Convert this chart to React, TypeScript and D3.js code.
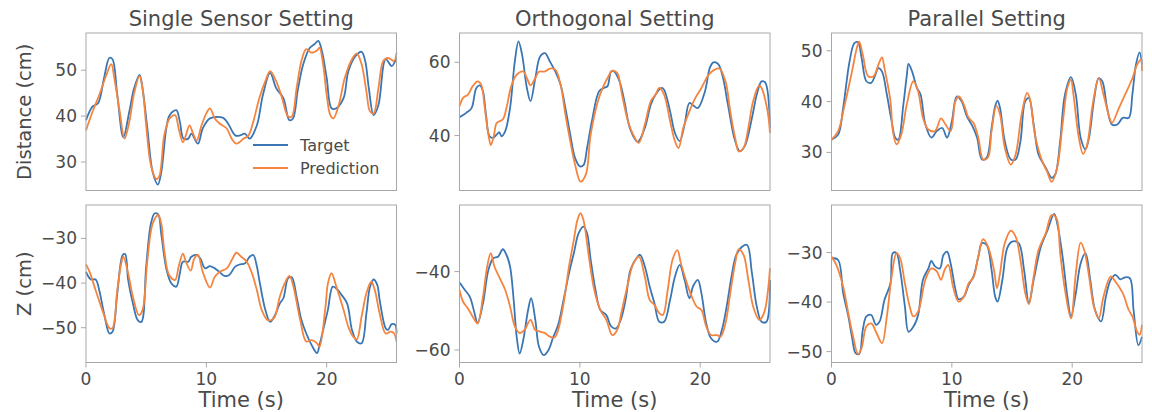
import React from "react";
import * as d3 from "d3";

type Pt = [number, number];

// time (s), value (cm)
const singleDistTarget: Pt[] = [
  [0, 39.1], [0.55, 42.1], [1, 42.8], [1.5, 48.3], [1.95, 52.7], [2.2, 52.4], [2.6, 44.6], [3.1, 35.4],
  [3.6, 41], [4, 46.1], [4.45, 49], [4.7, 46], [5.1, 37.3], [5.55, 27.7], [5.97, 25.1], [6.25, 27.7],
  [6.67, 37.3], [6.95, 40.2], [7.5, 41.3], [7.8, 38.8], [8.1, 35.1], [8.5, 35.1], [8.75, 36.2], [9.3, 34],
  [9.7, 37.3], [10.3, 39.5], [11.4, 39.6], [11.8, 38.4], [12.4, 35.8], [12.8, 35.8], [13.2, 36.2], [13.6, 35.1],
  [14.2, 38], [14.7, 44.6], [15.3, 49.4], [15.8, 46.1], [16.4, 43.9], [16.9, 39.1], [17.2, 39.5], [17.6, 45.7],
  [18.05, 51.3], [18.6, 54.9], [19, 55.7], [19.3, 56.4], [19.6, 54.2], [20, 48.3], [20.4, 41.7], [20.8, 41.7],
  [21.4, 43.9], [21.8, 49.8], [22.4, 53.1], [22.9, 54], [23.2, 52], [23.5, 46.1], [23.9, 40.2], [24.3, 42.4],
  [24.9, 52.4], [25.4, 50.9], [25.8, 52.7],
];
const singleDistPred: Pt[] = [
  [0, 36.9], [0.55, 41], [1.1, 44.6], [1.7, 49], [2.1, 51.3], [2.35, 48.3], [2.8, 41], [3.2, 35.1],
  [3.6, 38.8], [4, 45], [4.45, 48.7], [4.7, 46], [5, 38], [5.4, 29.2], [5.85, 26.3], [6.1, 27],
  [6.5, 35.8], [6.95, 39.5], [7.4, 40.2], [7.7, 37.3], [8.05, 34.3], [8.3, 35.8], [8.6, 38], [8.9, 36.2],
  [9.2, 34.7], [9.6, 38], [10, 40.6], [10.3, 41.7], [10.7, 39.5], [11.1, 38.4], [11.7, 37.3], [12.1, 35.1],
  [12.5, 34], [13.1, 35.1], [13.5, 35.8], [13.9, 38.8], [14.4, 43.9], [14.9, 47.6], [15.3, 49.8], [15.8, 47.6],
  [16.25, 44.3], [16.8, 39.9], [17.1, 39.9], [17.5, 46.1], [17.9, 52], [18.3, 54.6], [18.75, 53.8], [19.2, 54.3],
  [19.4, 54.9], [19.7, 51.3], [20, 44.6], [20.3, 40.2], [20.55, 39.5], [21, 42.4], [21.5, 48.3], [22.1, 52.4],
  [22.5, 53.6], [22.9, 51.3], [23.3, 45.4], [23.6, 41], [23.9, 40.6], [24.3, 46.1], [24.7, 52], [25.1, 52.7],
  [25.6, 52], [25.8, 53.8],
];

const orthoDistTarget: Pt[] = [
  [0, 45], [0.56, 46.2], [1, 47.5], [1.4, 53], [1.7, 53.7], [1.95, 52.1], [2.2, 45.7], [2.5, 39.8],
  [2.8, 39.4], [3.1, 40.3], [3.3, 40.9], [3.5, 39.8], [3.8, 41.2], [4.2, 47.5], [4.6, 60.3], [4.9, 65.7],
  [5.2, 62.1], [5.6, 53], [5.9, 49.4], [6.3, 55.7], [6.7, 61.6], [7.1, 62.5], [7.5, 60.3], [7.96, 57.5],
  [8.4, 53.9], [8.8, 47.5], [9.2, 40.3], [9.6, 33.9], [10, 31.6], [10.3, 31.9], [10.6, 36.6], [11, 43.9],
  [11.6, 52.1], [12, 53], [12.3, 53.5], [12.6, 57.5], [12.85, 57.5], [13.3, 54.8], [13.7, 49.4], [14.2, 41.6],
  [14.8, 38.3], [15.4, 42.1], [15.9, 48.5], [16.3, 51.2], [16.8, 53], [17, 52.5], [17.5, 46.6], [17.9, 40.7],
  [18.3, 38.5], [18.7, 43], [19.1, 48.9], [19.4, 48.3], [19.8, 47.5], [20.4, 52.1], [20.8, 58.5], [21.1, 60],
  [21.5, 59.5], [21.9, 55.7], [22.3, 48.5], [22.9, 38.5], [23.3, 35.7], [23.7, 37.1], [24.3, 44.8], [24.7, 51.2],
  [25.1, 54.8], [25.4, 54.5], [25.8, 42.1],
];
const orthoDistPred: Pt[] = [
  [0, 48], [0.3, 50.3], [0.7, 51.2], [1.1, 53.5], [1.5, 54.8], [1.8, 53.9], [2.1, 47.5], [2.4, 40.3],
  [2.6, 37.4], [2.85, 39.8], [3.1, 43.5], [3.6, 44.4], [3.9, 47.5], [4.3, 53.5], [4.75, 56.6], [5.3, 57.5],
  [5.6, 55.7], [5.9, 53.7], [6.3, 55.7], [6.6, 57.4], [7.1, 57.5], [7.5, 58.3], [7.96, 58], [8.4, 53.9],
  [8.8, 45.7], [9.2, 38.5], [9.6, 32.1], [10.06, 27.4], [10.5, 29.4], [10.9, 40.3], [11.5, 49.4], [11.9, 53],
  [12.3, 55.7], [12.7, 57.7], [13.1, 57.1], [13.5, 51.2], [14, 43.9], [14.5, 39.8], [14.9, 38], [15.4, 43],
  [15.9, 49.4], [16.3, 51.2], [16.6, 53], [17, 51.2], [17.5, 43.9], [17.9, 38.5], [18.2, 36.6], [18.6, 42.1],
  [19.1, 46.6], [19.6, 50.3], [20.1, 53], [20.7, 56.6], [21.2, 58], [21.6, 58.3], [22.1, 54.8], [22.5, 46.6],
  [22.9, 39.4], [23.2, 35.7], [23.6, 36.6], [24, 42.1], [24.4, 49.4], [24.9, 53.7], [25.1, 53], [25.6, 46.6],
  [25.8, 40.7],
];

const paraDistTarget: Pt[] = [
  [0, 32.5], [0.55, 33.5], [0.97, 38.8], [1.5, 47.9], [1.9, 51.5], [2.2, 51.7], [2.5, 48.6], [2.9, 44],
  [3.3, 43.7], [3.6, 45], [3.9, 46.6], [4.2, 45.9], [4.6, 41.4], [5, 36.1], [5.3, 32.9], [5.55, 32.5],
  [5.97, 39.4], [6.25, 45], [6.4, 47.4], [6.7, 45.9], [7.1, 42.7], [7.4, 41.4], [7.8, 35.5], [8.3, 32.9],
  [8.75, 34.2], [9.2, 34.8], [9.6, 32.9], [10, 36.1], [10.4, 41], [10.8, 40.1], [11.25, 37.1], [11.7, 35.2],
  [12.1, 32.9], [12.5, 28.6], [12.9, 29], [13.3, 34.8], [13.6, 39.1], [13.8, 40.2], [14, 38.8], [14.4, 32.2],
  [14.9, 28.6], [15.3, 28.6], [15.7, 32.2], [16.1, 40.1], [16.4, 40.7], [16.8, 35.5], [17.2, 29.6], [17.8, 27],
  [18.3, 25], [18.6, 25.7], [19, 32.2], [19.4, 41.4], [19.9, 44.8], [20.3, 41.4], [20.7, 32.9], [21.1, 30.6],
  [21.4, 32.9], [21.8, 40.1], [22.2, 44.6], [22.5, 44], [22.9, 38.8], [23.3, 35.5], [23.75, 35.5], [24.2, 36.8],
  [24.7, 36.8], [25, 41.4], [25.3, 47.3], [25.6, 49.7], [25.8, 47.3],
];
const paraDistPred: Pt[] = [
  [0, 32.5], [0.55, 34.2], [1.1, 39.4], [1.7, 45.9], [2.1, 50.5], [2.3, 51.8], [2.6, 49.2], [3.05, 45],
  [3.5, 45], [3.9, 47.3], [4.2, 48.7], [4.4, 46.6], [4.9, 40.1], [5.1, 34.2], [5.4, 31.6], [5.8, 33.5],
  [6.25, 39.4], [6.8, 44], [7.2, 42], [7.6, 36.8], [8.05, 34.5], [8.6, 34.2], [9.1, 36.7], [9.4, 35.8],
  [9.9, 34.2], [10.3, 40.1], [10.6, 41], [11, 39.4], [11.4, 36.8], [11.8, 35.8], [12.2, 32.9], [12.6, 28.6],
  [13, 29], [13.3, 34.2], [13.7, 39.1], [14, 37.5], [14.4, 30.9], [14.9, 27.6], [15.3, 29.6], [15.8, 37.5],
  [16.25, 41.7], [16.5, 40.4], [16.9, 33.5], [17.5, 28.3], [17.9, 26.3], [18.3, 24.2], [18.75, 27], [19.2, 35.5],
  [19.6, 42.7], [19.9, 44.3], [20.1, 41.4], [20.55, 32.9], [20.9, 29.7], [21.25, 31.6], [21.7, 39.4], [22.2, 44.6],
  [22.6, 41.4], [23.1, 36.8], [23.3, 35.8], [23.9, 38.8], [24.4, 41.4], [25, 44.6], [25.4, 47.3], [25.7, 48.2],
  [25.8, 46],
];

const singleZTarget: Pt[] = [
  [0, -37.5], [0.4, -39.2], [0.8, -39.2], [1.1, -41.6], [1.5, -46.8], [1.95, -51.3], [2.2, -50.9], [2.6, -42.3],
  [3.05, -33.7], [3.25, -33.5], [3.5, -39.3], [3.9, -44.6], [4.3, -48.3], [4.6, -48.7], [5, -36.3], [5.4, -26.6],
  [5.7, -24.4], [6, -24.6], [6.25, -28.9], [6.7, -37.1], [7.1, -40.1], [7.5, -40.8], [7.8, -37.8], [8.05, -35.2],
  [8.5, -35.2], [8.75, -34.1], [9.2, -33.7], [9.5, -34.5], [9.9, -36.7], [10.3, -36.2], [10.7, -36.7], [11.1, -37.5],
  [11.5, -38.4], [11.9, -38.2], [12.4, -36.3], [12.8, -35.8], [13.2, -35.6], [13.6, -34.1], [13.9, -33.7], [14.2, -36.3],
  [14.4, -39.3], [14.9, -46], [15.3, -48.7], [15.7, -47.2], [16.1, -44.6], [16.4, -43.4], [16.8, -38.9], [17.1, -38.7],
  [17.5, -43.1], [17.9, -48.3], [18.3, -51.3], [18.75, -53.9], [19.2, -55.7], [19.4, -53.9], [19.9, -48.3], [20.1, -46],
  [20.5, -40.8], [20.8, -41.2], [21.25, -42.7], [21.7, -44.6], [22.1, -50.5], [22.5, -53.1], [22.9, -53.5], [23.3, -46.8],
  [23.6, -40.8], [23.9, -39.2], [24.2, -40.4], [24.4, -43.8], [24.9, -50.1], [25.1, -50.5], [25.4, -49.2], [25.7, -49.4],
  [25.8, -51.3],
];
const singleZPred: Pt[] = [
  [0, -35.8], [0.3, -37.5], [0.8, -41.6], [1.4, -46.4], [1.95, -50.1], [2.2, -50.1], [2.6, -41.6], [2.9, -36],
  [3.1, -34.1], [3.5, -37.8], [3.9, -43.1], [4.4, -47.2], [4.7, -46], [5.1, -34.9], [5.55, -26.6], [6, -24.8],
  [6.25, -26.6], [6.5, -32.6], [6.9, -38.2], [7.4, -39.3], [7.7, -36.3], [8.05, -33.4], [8.3, -35.2], [8.7, -37.2],
  [9, -34.5], [9.3, -33.7], [9.7, -37.5], [10.3, -41], [10.7, -38.6], [11.1, -37.5], [11.7, -36.7], [12.1, -34.9],
  [12.5, -33.2], [12.9, -34.1], [13.3, -35], [13.75, -37.5], [14.2, -41.6], [14.6, -46], [15.1, -48.3], [15.6, -47.9],
  [16.1, -43.1], [16.5, -40.1], [16.9, -38.4], [17.2, -40.4], [17.8, -48.3], [18.3, -53.1], [18.75, -52.8], [19.2, -53.5],
  [19.4, -54.3], [19.9, -45.3], [20.1, -40.1], [20.4, -37.8], [20.8, -40.8], [21.4, -46], [21.8, -49.8], [22.2, -52],
  [22.5, -52.6], [22.9, -47.5], [23.3, -42.3], [23.7, -39.7], [24, -41.6], [24.4, -46.8], [24.9, -51.3], [25.3, -50.9],
  [25.6, -51.3], [25.8, -53.1],
];

const orthoZTarget: Pt[] = [
  [0, -42.8], [0.4, -44.5], [0.85, -46.4], [1.25, -50.6], [1.5, -53.2], [1.95, -48.1], [2.4, -39.6], [2.8, -36.6],
  [3.2, -36.2], [3.6, -34.3], [3.9, -35.7], [4.2, -38.7], [4.5, -47.2], [4.75, -56.6], [5, -60.9], [5.3, -57.4],
  [5.7, -49.8], [5.95, -46.8], [6.3, -52.3], [6.6, -59.1], [7, -61.3], [7.4, -60], [7.8, -56.6], [8.2, -53.6],
  [8.7, -46.4], [9.1, -40.4], [9.5, -35.3], [9.9, -30.2], [10.3, -28.5], [10.6, -30.2], [10.9, -37], [11.3, -44.7],
  [11.7, -49.8], [12.2, -51.1], [12.6, -54], [13, -54.5], [13.4, -52.3], [13.8, -47.2], [14.2, -39.6], [14.7, -36.6],
  [15, -35.7], [15.4, -38.7], [15.8, -43.8], [16.2, -48.1], [16.6, -52.8], [17, -52.8], [17.5, -47.2], [17.9, -41.3],
  [18.3, -38.3], [18.7, -42.1], [19.1, -46.8], [19.4, -43.8], [19.8, -42.1], [20.1, -45.5], [20.5, -53.2], [20.9, -57],
  [21.4, -57.9], [21.8, -54.9], [22.2, -48.9], [22.6, -41.3], [23, -35.7], [23.5, -33.6], [23.9, -33.2], [24.3, -40.4],
  [24.7, -48.9], [25.1, -52.8], [25.5, -52.8], [25.8, -42.1],
];
const orthoZPred: Pt[] = [
  [0, -44.7], [0.3, -47.7], [0.7, -49.4], [1.1, -51.5], [1.5, -53.2], [1.95, -46.4], [2.3, -38.7], [2.6, -35.3],
  [2.9, -38.7], [3.35, -41.7], [3.8, -44.7], [4.2, -48.9], [4.6, -54], [5, -55.7], [5.4, -54.9], [5.9, -52.3],
  [6.3, -54.9], [6.7, -55.3], [7.1, -55.7], [7.5, -56.6], [7.9, -56.8], [8.2, -54.9], [8.7, -47.2], [9.1, -38.7],
  [9.5, -31.9], [9.8, -26.8], [10.05, -25.1], [10.3, -26.8], [10.75, -36.2], [11.2, -44.7], [11.7, -49.8], [12.2, -52.3],
  [12.7, -56.2], [13.1, -54.9], [13.5, -49.8], [14, -43], [14.4, -38.3], [14.9, -36.2], [15.4, -41.3], [15.8, -47.2],
  [16.2, -48.5], [16.6, -50.6], [16.9, -51.1], [17.3, -44.7], [17.7, -37], [18.1, -34.5], [18.4, -37.9], [18.9, -43],
  [19.3, -46.4], [19.7, -48.9], [20.1, -49.8], [20.5, -54], [20.9, -56.2], [21.4, -56.2], [21.7, -56.6], [22.1, -53.2],
  [22.5, -45.5], [22.9, -37.9], [23.2, -34.3], [23.6, -35.7], [24, -42.1], [24.4, -48.9], [24.9, -52.3], [25.3, -50.6],
  [25.8, -39.1],
];

const paraZTarget: Pt[] = [
  [0, -31.1], [0.55, -31.5], [0.97, -38.2], [1.4, -42.9], [1.7, -47], [2, -50.3], [2.3, -50.5], [2.6, -45.6],
  [2.9, -42.9], [3.3, -42.6], [3.7, -44.6], [4, -43.9], [4.4, -39.6], [4.9, -36.2], [5.1, -30.1], [5.4, -30.1],
  [5.7, -33.5], [6.1, -40.9], [6.4, -46], [6.8, -45], [7.2, -42.6], [7.6, -35.5], [8.05, -33.2], [8.3, -31.7],
  [8.6, -32.8], [9, -33.2], [9.3, -30.5], [9.6, -29.8], [9.9, -32.2], [10.3, -37.5], [10.55, -39.4], [11, -38.9],
  [11.4, -36.5], [11.8, -34.8], [12.2, -30.8], [12.5, -28.1], [12.9, -28.5], [13.3, -33.5], [13.6, -38.9], [13.8, -39.9],
  [14.2, -35.5], [14.6, -29.1], [15, -27.8], [15.55, -28.1], [16, -33.5], [16.4, -40.2], [16.8, -35.5], [17.4, -28.8],
  [17.9, -25.8], [18.5, -22.2], [18.75, -24.1], [19.2, -30.8], [19.6, -38.9], [19.9, -42.9], [20.3, -38.2], [20.7, -32.2],
  [21.1, -30.1], [21.5, -35.5], [21.9, -41.6], [22.4, -43.9], [22.8, -38.9], [23.2, -35.5], [23.6, -34.5], [24, -35.4],
  [24.4, -35], [24.8, -35.2], [25.1, -41.6], [25.5, -48.7], [25.8, -47],
];
const paraZPred: Pt[] = [
  [0, -30.8], [0.4, -32.5], [0.97, -36.9], [1.4, -42.3], [1.8, -47], [2.2, -50.5], [2.5, -49.3], [2.9, -44.9],
  [3.3, -44.3], [3.75, -46.3], [4.2, -48.3], [4.6, -42.9], [5, -34.8], [5.4, -30.1], [5.7, -31.1], [6.1, -36.2],
  [6.5, -40.9], [6.8, -42.9], [7.2, -41.9], [7.8, -35.5], [8.3, -33.2], [8.75, -33.8], [9.1, -35.5], [9.4, -33.5],
  [9.7, -32.5], [10.1, -36.9], [10.55, -39.9], [11, -38.9], [11.4, -36.2], [11.8, -35], [12.2, -30.8], [12.6, -27.3],
  [13, -28.8], [13.5, -33.5], [13.75, -37.2], [14, -34.2], [14.4, -28.1], [14.9, -25.6], [15.3, -26.8], [15.7, -31.5],
  [16.1, -38.2], [16.4, -40.4], [16.8, -34.8], [17.2, -29.5], [17.8, -26.1], [18.3, -22.4], [18.7, -23.1], [19, -30.1],
  [19.4, -37.5], [19.9, -43.3], [20.3, -34.2], [20.7, -28], [21, -29.5], [21.4, -34.8], [21.8, -40.9], [22.2, -43.3],
  [22.6, -38.9], [23.2, -34.8], [23.6, -35.9], [24.2, -38.2], [24.7, -41.6], [25, -42.9], [25.4, -46], [25.6, -46.6],
  [25.8, -44.6],
];

const titles = ["Single Sensor Setting", "Orthogonal Setting", "Parallel Setting"];
const rowLabels = ["Distance (cm)", "Z (cm)"];
const xTicks = [0, 10, 20];
const yTicks = [
  [[30, 40, 50], [40, 60], [30, 40, 50]],
  [[-50, -40, -30], [-60, -40], [-50, -40, -30]],
];
const yDomains: [number, number][][] = [
  [[23.8, 58.1], [25, 68], [22.5, 53.5]],
  [[-57.8, -22.5], [-63.2, -23], [-52.2, -20.4]],
];
const series = [
  [[singleDistTarget, singleDistPred], [orthoDistTarget, orthoDistPred], [paraDistTarget, paraDistPred]],
  [[singleZTarget, singleZPred], [orthoZTarget, orthoZPred], [paraZTarget, paraZPred]],
];
const legendLabels = ["Target", "Prediction"];

const W = 1152;
const H = 412;
const colLeft = [86, 459.5, 831.5];
const rowTop = [33, 205];
const pw = 310.5;
const ph = 157.5;
const colors = ["#3a76b4", "#f5843f"];
const textColor = "#4a4a4a";
const spineColor = "#a8a8a8";
const font = "DejaVu Sans, sans-serif";
const fmt = d3.format("d");

function Panel({ r, c }: { r: number; c: number }) {
  const x = d3.scaleLinear().domain([0, 25.8]).range([0, pw]);
  const y = d3.scaleLinear().domain(yDomains[r][c]).range([ph, 0]);
  const line = d3
    .line<Pt>()
    .x((d) => x(d[0]))
    .y((d) => y(d[1]))
    .curve(d3.curveCatmullRom.alpha(0.5));

  return (
    <g transform={`translate(${colLeft[c]},${rowTop[r]})`}>
      {series[r][c].map((s, i) => (
        <path key={i} d={line(s) ?? ""} fill="none" stroke={colors[i]} strokeWidth={1.8} />
      ))}
      <rect x={0} y={0} width={pw} height={ph} fill="none" stroke={spineColor} strokeWidth={1} />
      {yTicks[r][c].map((t) => (
        <g key={t} transform={`translate(0,${y(t)})`}>
          <line x1={-5} x2={0} stroke={spineColor} />
          <text x={-9} dy="0.35em" textAnchor="end" fontSize={17} fill={textColor} fontFamily={font}>
            {fmt(t)}
          </text>
        </g>
      ))}
      {r === 1 &&
        xTicks.map((t) => (
          <g key={t} transform={`translate(${x(t)},${ph})`}>
            <line y1={0} y2={5} stroke={spineColor} />
            <text y={22} textAnchor="middle" fontSize={17} fill={textColor} fontFamily={font}>
              {fmt(t)}
            </text>
          </g>
        ))}
      {r === 0 && (
        <text x={pw / 2} y={-7} textAnchor="middle" fontSize={21} fill={textColor} fontFamily={font}>
          {titles[c]}
        </text>
      )}
      {r === 1 && (
        <text x={pw / 2} y={ph + 44} textAnchor="middle" fontSize={21} fill={textColor} fontFamily={font}>
          Time (s)
        </text>
      )}
      {r === 0 && c === 0 &&
        legendLabels.map((l, i) => (
          <g key={l} transform={`translate(167,${112 + i * 23})`}>
            <line x1={0} x2={35} stroke={colors[i]} strokeWidth={1.8} />
            <text x={47} dy="0.35em" fontSize={16} fill={textColor} fontFamily={font}>
              {l}
            </text>
          </g>
        ))}
    </g>
  );
}

export default function App() {
  return (
    <svg width={W} height={H} style={{ position: "absolute", left: 0, top: 0, background: "#fff" }}>
      {rowLabels.map((l, r) => (
        <text
          key={l}
          transform={`translate(31,${rowTop[r] + ph / 2}) rotate(-90)`}
          textAnchor="middle"
          fontSize={19.5}
          fill={textColor}
          fontFamily={font}
        >
          {l}
        </text>
      ))}
      {[0, 1].map((r) => [0, 1, 2].map((c) => <Panel key={`${r}-${c}`} r={r} c={c} />))}
    </svg>
  );
}
